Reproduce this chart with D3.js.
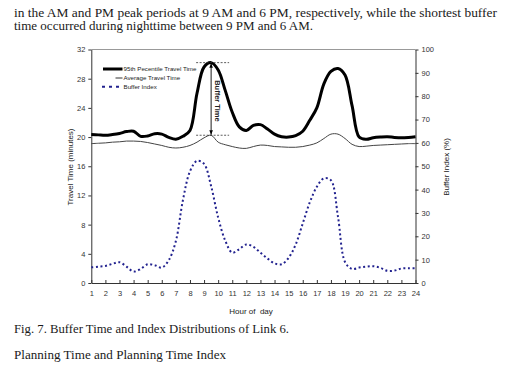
<!DOCTYPE html>
<html><head>
<meta charset="utf-8">
<script src="https://d3js.org/d3.v7.min.js"></script>
<style>
  body { margin: 0; background: #fff; }
  svg text { fill: #222; }
  .tick text { font-family: "Liberation Sans", Arial, sans-serif; font-size: 7.5px; fill: #333; }
  .axis path, .axis line { stroke: #333; }
  .serif { font-family: "Liberation Serif", "DejaVu Serif", serif; font-size: 11.5px; fill: #1a1a1a; }
</style>
</head>
<body>
<svg id="chart" width="511" height="368"></svg>
<script>
// hour of day (half-hour steps)
const hours = [1,1.5,2,2.5,3,3.5,4,4.5,5,5.5,6,6.5,7,7.5,8,8.5,9,9.5,10,10.5,11,11.5,12,12.5,
               13,13.5,14,14.5,15,15.5,16,16.5,17,17.5,18,18.5,19,19.5,20,20.5,21,21.5,22,22.5,23,23.5,24];
// 95th percentile travel time (minutes)
const p95 = [20.35,20.3,20.25,20.35,20.5,20.75,20.8,20.1,20.15,20.45,20.4,19.95,19.7,20.1,20.9,26.0,29.6,30.2,29.2,26.4,
             23.4,21.4,20.9,21.6,21.7,21.1,20.4,20.05,20.0,20.2,20.8,22.3,24.0,27.3,29.0,29.4,28.5,24.3,20.0,19.7,
             19.9,20.0,20.05,19.95,19.9,19.95,20.05];
// average travel time (minutes)
const avgTime = [19.1,19.15,19.2,19.3,19.35,19.45,19.45,19.4,19.25,19.05,18.85,18.6,18.5,18.6,18.85,19.3,19.9,20.25,19.3,18.95,
                 18.7,18.5,18.45,18.7,18.9,18.85,18.7,18.65,18.6,18.6,18.7,18.9,19.2,19.8,20.4,20.4,19.8,19.0,18.7,18.75,
                 18.85,18.9,18.95,19.0,19.05,19.1,19.1];
// buffer index (%)
const bufferIndex = [6.7,7.0,7.3,8.2,8.9,7.0,4.9,6.0,8.0,7.6,6.6,9.8,18.0,35.5,47.8,52.3,51.0,41.5,28.0,18.2,
                     13.0,14.5,16.5,15.5,13.0,10.5,8.4,8.0,10.8,16.5,25.5,34.5,41.2,44.8,44.0,28.4,9.0,6.0,6.6,7.0,
                     7.2,6.5,5.2,5.3,6.2,6.3,6.3];

const hourTicks = [1,2,3,4,5,6,7,8,9,10,11,12,13,14,15,16,17,18,19,20,21,22,23,24];
const timeTicks = [0,4,8,12,16,20,24,28,32];
const indexTicks = [0,10,20,30,40,50,60,70,80,90,100];

const legendNames = ["95th Pecentile Travel Time", "Average Travel Time", "Buffer Index"];
const textLines = [
  "in the AM and PM peak periods at 9 AM and 6 PM, respectively, while the shortest buffer",
  "time occurred during nighttime between 9 PM and 6 AM."
];
const caption = "Fig. 7. Buffer Time and Index Distributions of Link 6.";
const heading = "Planning Time and Planning Time Index";

let svg = d3.select("#chart");
svg.append("rect").attr("width", 511).attr("height", 368).attr("fill", "#fff");

const margins = {"top":49.5, "left":91.3, "right":415.5, "bottom":283};

const x = d3.scaleLinear().domain([1, 24]).range([margins.left, margins.right]);
const yTime = d3.scaleLinear().domain([0, 32]).range([margins.bottom, margins.top]);
const yIndex = d3.scaleLinear().domain([0, 100]).range([margins.bottom, margins.top]);

// surrounding text
textLines.forEach((t, i) => {
  svg.append("text").attr("class", "serif")
     .attr("x", 14).attr("y", 17 + i * 13)
     .attr("textLength", i == 0 ? 483 : 299).attr("lengthAdjust", "spacingAndGlyphs")
     .text(t);
});
svg.append("text").attr("class", "serif").attr("x", 14).attr("y", 333)
   .attr("textLength", 275).attr("lengthAdjust", "spacingAndGlyphs").text(caption);
svg.append("text").attr("class", "serif").attr("x", 14).attr("y", 359)
   .attr("textLength", 212).attr("lengthAdjust", "spacingAndGlyphs").text(heading);

// top border
svg.append("line")
   .attr("x1", margins.left).attr("x2", margins.right)
   .attr("y1", margins.top).attr("y2", margins.top)
   .attr("stroke", "#999").attr("stroke-width", 1);

// axes
svg.append("g").attr("class", "axis")
   .attr("transform", "translate(0," + margins.bottom + ")")
   .call(d3.axisBottom(x).tickValues(hourTicks).tickSizeInner(-3).tickSizeOuter(0).tickPadding(8));

svg.append("g").attr("class", "axis")
   .attr("transform", "translate(" + margins.left + ",0)")
   .call(d3.axisLeft(yTime).tickValues(timeTicks).tickSize(3).tickSizeOuter(0).tickPadding(3));

svg.append("g").attr("class", "axis")
   .attr("transform", "translate(" + margins.right + ",0)")
   .call(d3.axisRight(yIndex).tickValues(indexTicks).tickSize(3).tickSizeOuter(0).tickPadding(3));

// axis titles
svg.append("text").attr("transform", "translate(73,167) rotate(-90)")
   .attr("text-anchor", "middle")
   .style("font", "8px 'Liberation Sans', Arial, sans-serif")
   .text("Travel Time (minutes)");
svg.append("text").attr("transform", "translate(449,167) rotate(-90)")
   .attr("text-anchor", "middle")
   .style("font", "8px 'Liberation Sans', Arial, sans-serif")
   .text("Buffer Index (%)");
svg.append("text").attr("x", 251).attr("y", 314)
   .attr("text-anchor", "middle")
   .style("font", "8px 'Liberation Sans', Arial, sans-serif")
   .style("white-space", "pre")
   .text("Hour of  day");

// series
const lineTime = d3.line().x((d, i) => x(hours[i])).y(d => yTime(d)).curve(d3.curveCatmullRom);
const lineIndex = d3.line().x((d, i) => x(hours[i])).y(d => yIndex(d)).curve(d3.curveCatmullRom);

svg.append("path").datum(avgTime).attr("d", lineTime)
   .attr("fill", "none").attr("stroke", "#444").attr("stroke-width", 1);

svg.append("path").datum(p95).attr("d", lineTime)
   .attr("fill", "none").attr("stroke", "#000").attr("stroke-width", 3);

svg.append("path").datum(bufferIndex).attr("d", lineIndex)
   .attr("fill", "none").attr("stroke", "#22228f").attr("stroke-width", 2)
   .attr("stroke-dasharray", "2,2.6");

// buffer time annotation at the AM peak
const peakI = p95.indexOf(d3.max(p95.slice(0, 24)));
const px = x(hours[peakI]);
const topY = yTime(p95[peakI]);
const botY = yTime(avgTime[peakI]);

svg.append("defs").append("marker")
   .attr("id", "arr").attr("viewBox", "0 0 10 10")
   .attr("refX", 10).attr("refY", 5)
   .attr("markerWidth", 5).attr("markerHeight", 5)
   .attr("orient", "auto-start-reverse")
   .append("path").attr("d", "M0,1L10,5L0,9z").attr("fill", "#000");

[topY, botY].forEach(yy => {
  svg.append("line")
     .attr("x1", px - 15).attr("x2", px + 18)
     .attr("y1", yy).attr("y2", yy)
     .attr("stroke", "#333").attr("stroke-width", 0.8)
     .attr("stroke-dasharray", "2,1.5");
});
svg.append("line")
   .attr("x1", px).attr("x2", px)
   .attr("y1", topY + 0.5).attr("y2", botY - 0.5)
   .attr("stroke", "#000").attr("stroke-width", 0.9)
   .attr("marker-start", "url(#arr)").attr("marker-end", "url(#arr)");
svg.append("text")
   .attr("transform", "translate(" + (px + 3.5) + "," + ((topY + botY) / 2 + 2) + ") rotate(90)")
   .attr("text-anchor", "middle")
   .style("font", "bold 7.5px 'Liberation Sans', Arial, sans-serif")
   .text("Buffer Time");

// legend
let legend = svg.append("g");
const legendY = [69, 78, 86.7];
legend.append("line").attr("x1", 103).attr("x2", 122.5).attr("y1", legendY[0]).attr("y2", legendY[0])
      .attr("stroke", "#000").attr("stroke-width", 3);
legend.append("line").attr("x1", 115.5).attr("x2", 122.5).attr("y1", legendY[1]).attr("y2", legendY[1])
      .attr("stroke", "#333").attr("stroke-width", 1);
legend.append("line").attr("x1", 102).attr("x2", 119).attr("y1", legendY[2]).attr("y2", legendY[2])
      .attr("stroke", "#22228f").attr("stroke-width", 2).attr("stroke-dasharray", "3,4");
legendNames.forEach((n, i) => {
  legend.append("text").attr("x", 123.5).attr("y", legendY[i] + 2.2)
        .style("font", "6.2px 'Liberation Sans', Arial, sans-serif")
        .text(n);
});
</script>
</body>
</html>
